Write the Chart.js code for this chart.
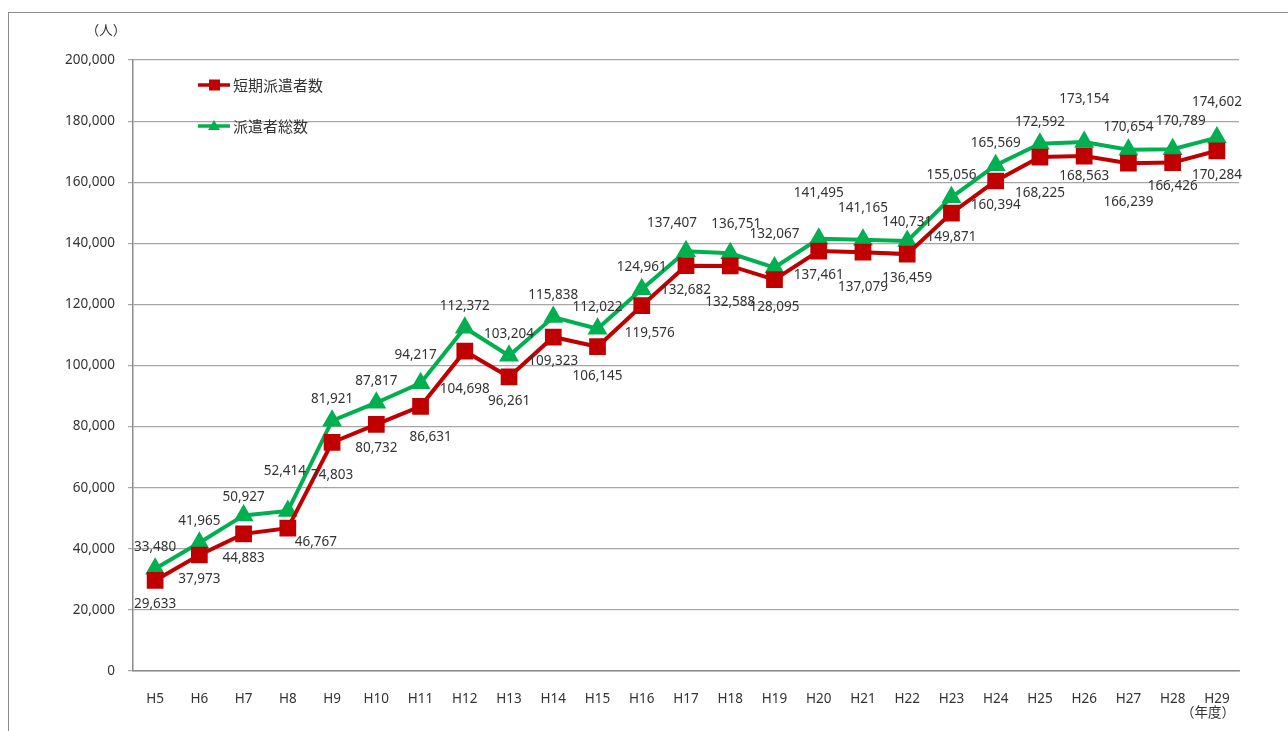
<!DOCTYPE html>
<html lang="ja">
<head>
<meta charset="UTF-8">
<title>派遣者数の推移</title>
<script src="https://cdn.jsdelivr.net/npm/chart.js@4.4.0/dist/chart.umd.min.js"></script>
<style>
  html, body { margin: 0; padding: 0; background: #fff; overflow: hidden; }
  #wrap { position: relative; width: 1288px; height: 731px; }
  #frame { position: absolute; left: 8px; top: 12px; width: 1400px; height: 800px; border: 1px solid #8c8c8c; box-sizing: border-box; pointer-events: none; }
  canvas { position: absolute; left: 0; top: 0; }
</style>
</head>
<body>
<div id="wrap">
  <div id="frame"></div>
  <canvas id="chart" width="1288" height="731"></canvas>
</div>
<script>
// 年度
const years = ['H5', 'H6', 'H7', 'H8', 'H9', 'H10', 'H11', 'H12', 'H13', 'H14', 'H15', 'H16', 'H17',
  'H18', 'H19', 'H20', 'H21', 'H22', 'H23', 'H24', 'H25', 'H26', 'H27', 'H28', 'H29'];

// 短期派遣者数
const shortTerm = [29633, 37973, 44883, 46767, 74803, 80732, 86631, 104698, 96261, 109323, 106145, 119576,
  132682, 132588, 128095, 137461, 137079, 136459, 149871, 160394, 168225, 168563, 166239, 166426, 170284];

// 派遣者総数
const total = [33480, 41965, 50927, 52414, 81921, 87817, 94217, 112372, 103204, 115838, 112022, 124961,
  137407, 136751, 132067, 141495, 141165, 140731, 155056, 165569, 172592, 173154, 170654, 170789, 174602];

const seriesNames = ['短期派遣者数', '派遣者総数'];
const yTicks = [0, 20000, 40000, 60000, 80000, 100000, 120000, 140000, 160000, 180000, 200000];

const RED = '#C00000';
const GREEN = '#00B050';
const TEXT = '#333333';
const NUM_FONT = '13.5px "Noto Sans", "Noto Sans CJK JP", sans-serif';
const JP_FONT = '15px "Noto Sans CJK JP", sans-serif';
const UNIT_FONT = '13.5px "Noto Sans CJK JP", sans-serif';

// ラベルの基本位置（マーカーからの距離）と個別の微調整 [dx, dy]
const labelBase = [24, -22];
const labelNudge = [
  { 3: [28, -10], 4: [0, 9], 6: [10, 7], 7: [0, 14], 10: [0, 5], 11: [8, 3], 13: [0, 12], 14: [0, 3],
    16: [0, 11], 20: [0, 12], 21: [0, -4], 22: [0, 15] },
  { 2: [0, 4], 3: [-3, -18], 6: [-5, -6], 12: [-14, -6], 13: [6, -7], 14: [0, -11], 15: [0, -24],
    16: [0, -10], 17: [0, 3], 21: [0, -21], 23: [8, -6], 24: [0, -13] }
];

const fmt = v => v.toLocaleString('en-US');

// データラベル・凡例・単位の描画
const annotate = {
  id: 'annotate',
  afterDatasetsDraw(chart) {
    const ctx = chart.ctx;
    ctx.save();
    ctx.font = NUM_FONT;
    ctx.fillStyle = TEXT;
    ctx.textAlign = 'center';
    ctx.textBaseline = 'middle';
    chart.data.datasets.forEach((ds, d) => {
      chart.getDatasetMeta(d).data.forEach((pt, i) => {
        const n = labelNudge[d][i] || [0, 0];
        ctx.fillText(fmt(ds.data[i]), pt.x + n[0], pt.y + labelBase[d] + n[1]);
      });
    });

    // 凡例
    const items = [[RED, 'rect', 85], [GREEN, 'triangle', 126]];
    items.forEach(([color, shape, y], k) => {
      ctx.strokeStyle = color;
      ctx.fillStyle = color;
      ctx.lineWidth = 3.5;
      ctx.beginPath();
      ctx.moveTo(198, y);
      ctx.lineTo(230, y);
      ctx.stroke();
      ctx.beginPath();
      if (shape === 'rect') {
        ctx.rect(209, y - 5.5, 11, 11);
      } else {
        ctx.moveTo(214, y - 6);
        ctx.lineTo(220, y + 4);
        ctx.lineTo(208, y + 4);
        ctx.closePath();
      }
      ctx.fill();
      ctx.fillStyle = TEXT;
      ctx.font = JP_FONT;
      ctx.textAlign = 'left';
      ctx.fillText(seriesNames[k], 233, y);
    });

    // 単位
    ctx.font = UNIT_FONT;
    ctx.textAlign = 'center';
    ctx.fillText('（人）', 106, 30);
    ctx.fillText('（年度）', 1208, 712);
    ctx.restore();
  }
};

new Chart(document.getElementById('chart'), {
  type: 'line',
  data: {
    labels: years,
    datasets: [
      {
        label: seriesNames[0],
        data: shortTerm,
        borderColor: RED,
        backgroundColor: RED,
        borderWidth: 4,
        pointStyle: 'rect',
        pointRadius: 9,
        pointHoverRadius: 9,
        tension: 0
      },
      {
        label: seriesNames[1],
        data: total,
        borderColor: GREEN,
        backgroundColor: GREEN,
        borderWidth: 4,
        pointStyle: 'triangle',
        pointRadius: 7.5,
        pointHoverRadius: 7.5,
        tension: 0
      }
    ]
  },
  options: {
    responsive: false,
    animation: false,
    devicePixelRatio: 1,
    layout: { padding: { top: 60, right: 49, left: 0, bottom: 0 } },
    plugins: {
      legend: { display: false },
      tooltip: { enabled: false }
    },
    scales: {
      x: {
        offset: true,
        grid: { display: false },
        border: { display: true, color: '#8c8c8c', width: 1.5 },
        ticks: { color: TEXT, font: { family: '"Noto Sans", sans-serif', size: 13.5 }, padding: 12, maxRotation: 0, autoSkip: false },
        afterFit(scale) { scale.height = 60; }
      },
      y: {
        min: 0,
        max: 200000,
        afterBuildTicks(scale) { scale.ticks = yTicks.map(v => ({ value: v })); },
        grid: { color: '#a6a6a6', lineWidth: 1.2, tickLength: 5 },
        border: { display: true, color: '#8c8c8c', width: 1.5 },
        ticks: { color: TEXT, font: { family: '"Noto Sans", sans-serif', size: 13.5 }, padding: 13, callback: v => fmt(v) },
        afterFit(scale) { scale.width = 133; }
      }
    }
  },
  plugins: [annotate]
});
</script>
</body>
</html>
